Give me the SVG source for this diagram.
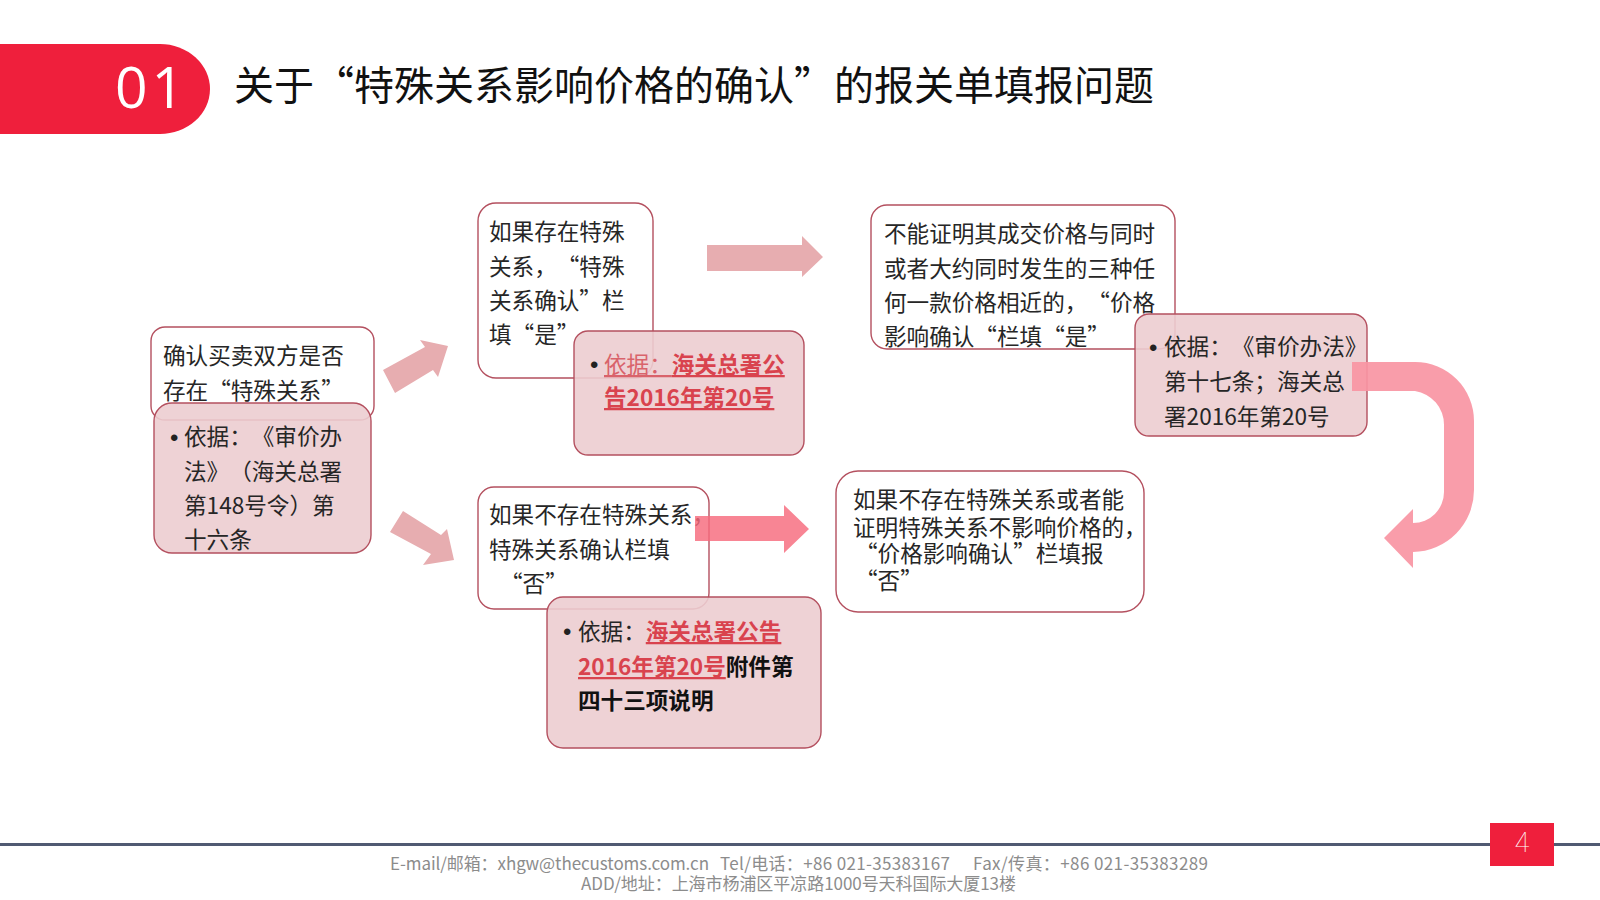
<svg xmlns="http://www.w3.org/2000/svg" width="1600" height="900" viewBox="0 0 1600 900">
<style>
text{font-family:"Noto Sans CJK SC","Liberation Sans",sans-serif;font-size:22.6px;fill:#262626;text-spacing-trim:space-all}
.dot{font-family:"Liberation Sans",sans-serif;font-size:24px;fill:#222}
.box{fill:#fff;stroke:#b4505f;stroke-width:1.4}
.pink{fill:#eccdd0;fill-opacity:.9;stroke:#b4505f;stroke-width:1.4}
.r{fill:#d9434e;font-weight:700;text-decoration:underline}
.rl{fill:#d9636b;text-decoration:underline}
.b{font-weight:700;fill:#111}
.foot{font-size:17px;fill:#8c8c8c}
.a1{fill:#e7adb0}
.a2{fill:#f66a7d;fill-opacity:.82}
.a3{fill:#f895a3;fill-opacity:.92}
</style>
<g id="header">
<path d="M0 44H160A50 45 0 0 1 160 134H0Z" fill="#ef1f3c"/>
<text x="115" y="108" style="font-family:'Open Sans','Liberation Sans',sans-serif;font-size:57px;font-weight:400;fill:#fff;letter-spacing:4px">01</text>
<text id="title" x="234" y="100" style="font-size:40px;fill:#111">关于“特殊关系影响价格的确认”的报关单填报问题</text>
</g>
<g id="n1"><rect class="box" x="151" y="327" width="223" height="93" rx="14"/>
<text x="163" y="364">确认买卖双方是否</text><text x="163" y="399">存在“特殊关系”</text></g>
<g id="n1b"><rect class="pink" x="154" y="403" width="217" height="150" rx="18"/>
<text class="dot" x="170" y="446">•</text><text x="184" y="445">依据：《审价办</text><text x="184" y="480">法》（海关总署</text><text x="184" y="514">第148号令）第</text><text x="184" y="548">十六条</text></g>
<g id="n2"><rect class="box" x="478" y="203" width="175" height="175" rx="18"/>
<text x="489" y="240">如果存在特殊</text><text x="489" y="275">关系，“特殊</text><text x="489" y="309">关系确认”栏</text><text x="489" y="343">填“是”</text></g>
<g id="n2b"><rect class="pink" x="574" y="331" width="230" height="124" rx="14"/>
<text class="dot" x="590" y="373">•</text><text x="604" y="373"><tspan class="rl">依据：</tspan><tspan class="r">海关总署公</tspan></text><text x="604" y="406" class="r">告2016年第20号</text></g>
<g id="n3"><rect class="box" x="478" y="487" width="231" height="122" rx="16"/>
<text x="489" y="523">如果不存在特殊关系，</text><text x="489" y="558">特殊关系确认栏填</text><text x="500" y="592">“否”</text></g>
<g id="n3b"><rect class="pink" x="547" y="597" width="274" height="151" rx="16"/>
<text class="dot" x="563" y="640">•</text><text x="578" y="640">依据：<tspan class="r">海关总署公告</tspan></text><text x="578" y="675"><tspan class="r">2016年第20号</tspan><tspan class="b">附件第</tspan></text><text x="578" y="709" class="b">四十三项说明</text></g>
<g id="n4"><rect class="box" x="871" y="205" width="304" height="144" rx="16"/>
<text x="884" y="242">不能证明其成交价格与同时</text><text x="884" y="277">或者大约同时发生的三种任</text><text x="884" y="311">何一款价格相近的，“价格</text><text x="884" y="345">影响确认“栏填“是”</text></g>
<g id="n4b"><rect class="pink" x="1135" y="314" width="232" height="122" rx="14"/>
<text class="dot" x="1149" y="356">•</text><text x="1164" y="355">依据：《审价办法》</text><text x="1164" y="390">第十七条；海关总</text><text x="1164" y="425">署2016年第20号</text></g>
<g id="n5"><rect class="box" x="836" y="471" width="308" height="141" rx="22"/>
<text x="853" y="508">如果不存在特殊关系或者能</text><text x="853" y="536">证明特殊关系不影响价格的，</text><text x="855" y="562">“价格影响确认”栏填报</text><text x="855" y="589">“否”</text></g>
<g id="connectors">
<polygon class="a1" points="383,370 425,347 420,340 448,346 438,377 433,370 395,393"/>
<polygon class="a1" points="403,511 441,535 447,529 454,560 423,565 431,554 390,532"/>
<polygon class="a1" points="707,245 802,245 802,236 823,257 802,277 802,271 707,271"/>
<polygon class="a2" points="695,516 784,516 784,505 809,529 784,553 784,541 695,541"/>
<path class="a3" d="M1352 362H1415A59 59 0 0 1 1474 421V490A62 62 0 0 1 1413 552V568L1384 538L1413 509V523A31 31 0 0 0 1444 492V425A34 34 0 0 0 1415 391H1352Z"/>
</g>
<g id="footer">
<rect x="0" y="843" width="1600" height="3" fill="#505a72"/>
<text class="foot" x="390" y="870" textLength="319" lengthAdjust="spacing">E-mail/邮箱：xhgw@thecustoms.com.cn</text>
<text class="foot" x="720" y="870" textLength="230" lengthAdjust="spacing">Tel/电话：+86 021-35383167</text>
<text class="foot" x="973" y="870" textLength="235" lengthAdjust="spacing">Fax/传真：+86 021-35383289</text>
<text class="foot" x="581" y="890" textLength="435" lengthAdjust="spacing">ADD/地址：上海市杨浦区平凉路1000号天科国际大厦13楼</text>
<rect x="1490" y="823" width="64" height="43" fill="#ef1f3c"/>
<text x="1522" y="852" style="font-family:Roboto,'Liberation Serif',serif;font-size:27px;font-weight:100;fill:#fff;text-anchor:middle">4</text>
</g>
</svg>
